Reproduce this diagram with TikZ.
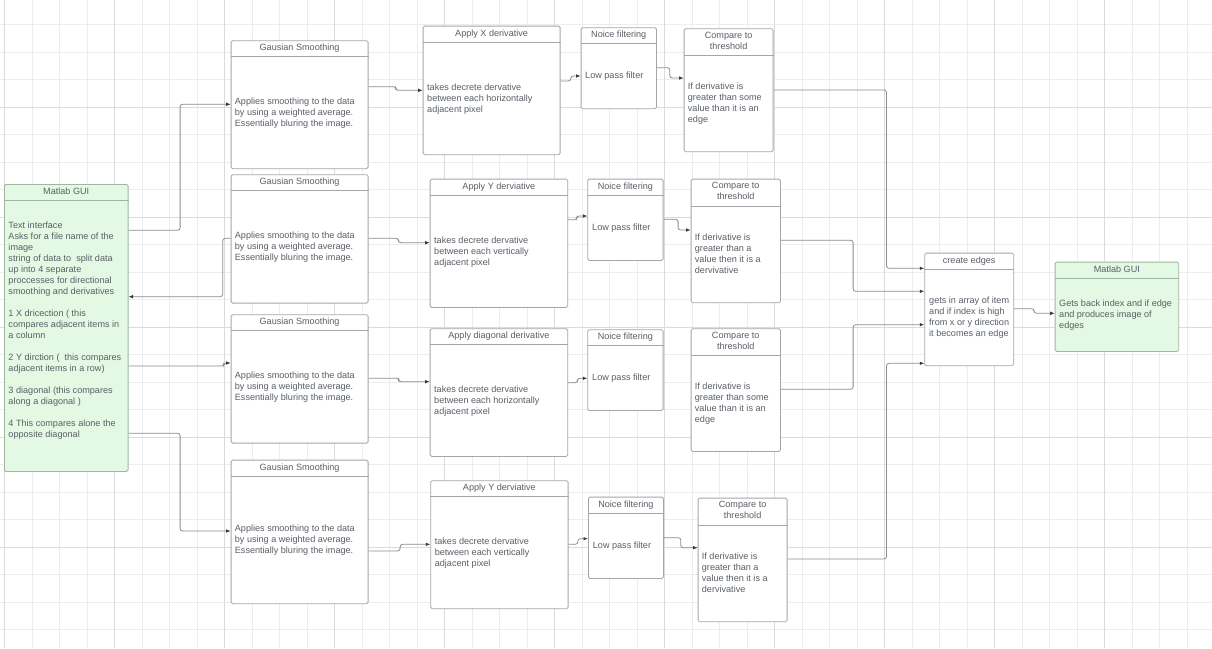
\documentclass[tikz,border=0pt]{standalone}
\usepackage{fontspec}
\setmainfont{Liberation Sans}
\usepackage{tikz}
\usetikzlibrary{positioning,arrows.meta}
\definecolor{boxgray}{HTML}{A6A6A6}
\definecolor{guifill}{HTML}{E3F9E3}
\definecolor{guiline}{HTML}{9DB89D}
\definecolor{txt}{HTML}{595F67}
\definecolor{linkgray}{HTML}{8C8C8C}
\definecolor{tipgray}{HTML}{3A3A3A}
\definecolor{gridminor}{HTML}{EDEDED}
\definecolor{gridmajor}{HTML}{DBDBDB}
\newcommand\boxfont{\fontsize{9.1}{11}\selectfont}
\begin{document}
\begin{tikzpicture}[x=1pt,y=1pt,
  box/.style={shape=rectangle,draw=boxgray,fill=white,line width=0.8pt,rounded corners=1.5pt,anchor=north west,inner sep=0pt},
  boxG/.style={box,draw=guiline,fill=guifill},
  head/.style={anchor=north,inner sep=0pt,align=center,font=\boxfont,text=txt},
  body/.style={anchor=north west,inner sep=0pt,align=left,font=\boxfont,text=txt},
  rule/.style={draw=boxgray,line width=0.8pt},
  ruleG/.style={draw=guiline,line width=0.8pt},
  link/.style={draw=linkgray,line width=0.8pt,rounded corners=2.5pt,-{Latex[length=4.5pt,width=3.6pt,color=tipgray]}}]
\def\hd{3.6pt}
\def\hr{16.2pt}
\def\hrr{27.3pt}

\useasboundingbox (0,0) rectangle (1212,-648);
\fill[white] (0,0) rectangle (1212,-648);
\begin{scope}[shift={(4.5,2.7)}]
\draw[gridminor,line width=0.7pt,step=27.5pt] (-4.5,-651) grid (1208,-2.7);
\draw[gridmajor,line width=0.8pt,step=110pt] (-4.5,-651) grid (1208,-2.7);
\end{scope}

\node[boxG,minimum width=123.7,minimum height=287] (GUI1) at (4,-184) {};
\node[head,below=\hd of GUI1.north] (GUI1t) {Matlab GUI};
\node[body,below right=37.6pt and 4.3pt of GUI1.north west] (GUI1b) {Text interface\\Asks for a file name of the\\image\\string of data to \ split data\\up into 4 separate\\proccesses for directional\\smoothing and derivatives\\[11pt]1 X dricection ( this\\compares adjacent items in\\a column\\[11pt]2 Y dirction ( \ this compares\\adjacent items in a row)\\[11pt]3 diagonal (this compares\\along a diagonal )\\[11pt]4 This compares alone the\\opposite diagonal};

\node[box,minimum width=137,minimum height=128] (G1) at (230.7,-40.3) {};
\node[head,below=\hd of G1.north] (G1t) {Gausian Smoothing};
\node[body,below right=57.3pt and 4pt of G1.north west] (G1b) {Applies smoothing to the data\\by using a weighted average.\\Essentially bluring the image.};
\node[box,minimum width=137,minimum height=128.4] (G2) at (230.7,-174.3) {};
\node[head,below=\hd of G2.north] (G2t) {Gausian Smoothing};
\node[body,below right=57.3pt and 4pt of G2.north west] (G2b) {Applies smoothing to the data\\by using a weighted average.\\Essentially bluring the image.};
\node[box,minimum width=137,minimum height=128.4] (G3) at (230.7,-314.3) {};
\node[head,below=\hd of G3.north] (G3t) {Gausian Smoothing};
\node[body,below right=57.3pt and 4pt of G3.north west] (G3b) {Applies smoothing to the data\\by using a weighted average.\\Essentially bluring the image.};
\node[box,minimum width=137,minimum height=143.6] (G4) at (230.7,-459.7) {};
\node[head,below=\hd of G4.north] (G4t) {Gausian Smoothing};
\node[body,below right=64.6pt and 4pt of G4.north west] (G4b) {Applies smoothing to the data\\by using a weighted average.\\Essentially bluring the image.};

\node[box,minimum width=137,minimum height=128.6] (D1) at (422.7,-25.7) {};
\node[head,below=\hd of D1.north] (D1t) {Apply X derivative};
\node[body,below right=57.9pt and 4.3pt of D1.north west] (D1b) {takes decrete dervative\\between each horizontally\\adjacent pixel};
\node[box,minimum width=137.6,minimum height=128.3] (D2) at (429.7,-178.7) {};
\node[head,below=\hd of D2.north] (D2t) {Apply Y derviative};
\node[body,below right=57.6pt and 4.3pt of D2.north west] (D2b) {takes decrete dervative\\between each vertically\\adjacent pixel};
\node[box,minimum width=137.6,minimum height=127.7] (D3) at (429.7,-328.3) {};
\node[head,below=\hd of D3.north] (D3t) {Apply diagonal derivative};
\node[body,below right=57.3pt and 4.3pt of D3.north west] (D3b) {takes decrete dervative\\between each horizontally\\adjacent pixel};
\node[box,minimum width=137.4,minimum height=128] (D4) at (430.3,-480.3) {};
\node[head,below=\hd of D4.north] (D4t) {Apply Y derviative};
\node[body,below right=57pt and 4.3pt of D4.north west] (D4b) {takes decrete dervative\\between each vertically\\adjacent pixel};

\node[box,minimum width=75.3,minimum height=81] (N1) at (580.7,-27.3) {};
\node[head,below=\hd of N1.north] (N1t) {Noice filtering};
\node[body,below right=44.3pt and 4.3pt of N1.north west] (N1b) {Low pass filter};
\node[box,minimum width=75.4,minimum height=81.3] (N2) at (587.3,-178.7) {};
\node[head,below=\hd of N2.north] (N2t) {Noice filtering};
\node[body,below right=44.6pt and 4.7pt of N2.north west] (N2b) {Low pass filter};
\node[box,minimum width=75.4,minimum height=80.7] (N3) at (587.3,-329.3) {};
\node[head,below=\hd of N3.north] (N3t) {Noice filtering};
\node[body,below right=44.6pt and 4.7pt of N3.north west] (N3b) {Low pass filter};
\node[box,minimum width=75,minimum height=81.3] (N4) at (588,-496.7) {};
\node[head,below=\hd of N4.north] (N4t) {Noice filtering};
\node[body,below right=44.6pt and 4.7pt of N4.north west] (N4b) {Low pass filter};

\node[box,minimum width=89,minimum height=123] (C1) at (683.7,-28.3) {};
\node[head,below=\hd of C1.north] (C1t) {Compare to\\threshold};
\node[body,below right=54.6pt and 4pt of C1.north west] (C1b) {If derivative is\\greater than some\\value than it is an\\edge};
\node[box,minimum width=89.3,minimum height=123.6] (C2) at (690.7,-178.7) {};
\node[head,below=\hd of C2.north] (C2t) {Compare to\\threshold};
\node[body,below right=54.9pt and 4pt of C2.north west] (C2b) {If derivative is\\greater than a\\value then it is a\\dervivative};
\node[box,minimum width=89.3,minimum height=122.7] (C3) at (690.7,-328.3) {};
\node[head,below=\hd of C3.north] (C3t) {Compare to\\threshold};
\node[body,below right=54.3pt and 4pt of C3.north west] (C3b) {If derivative is\\greater than some\\value than it is an\\edge};
\node[box,minimum width=89,minimum height=123.6] (C4) at (697.7,-497.7) {};
\node[head,below=\hd of C4.north] (C4t) {Compare to\\threshold};
\node[body,below right=54.9pt and 4pt of C4.north west] (C4b) {If derivative is\\greater than a\\value then it is a\\dervivative};

\node[box,minimum width=89,minimum height=112.6] (E) at (924.3,-252.7) {};
\node[head,below=\hd of E.north] (Et) {create edges};
\node[body,below right=44.2pt and 4.7pt of E.north west] (Eb) {gets in array of item\\and if index is high\\from x or y direction\\it becomes an edge};

\node[boxG,minimum width=123.6,minimum height=89.3] (GUI2) at (1054.7,-261.7) {};
\node[head,below=\hd of GUI2.north] (GUI2t) {Matlab GUI};
\node[body,below right=37.9pt and 4.3pt of GUI2.north west] (GUI2b) {Gets back index and if edge\\and produces image of\\edges};

\foreach \b in {G1,G2,G3,G4,D1,D2,D3,D4,N1,N2,N3,N4,E}
  \draw[rule] ([yshift=-\hr]\b.north west) -- ([yshift=-\hr]\b.north east);
\foreach \b in {C1,C2,C3,C4}
  \draw[rule] ([yshift=-\hrr]\b.north west) -- ([yshift=-\hrr]\b.north east);
\foreach \b in {GUI1,GUI2}
  \draw[ruleG] ([yshift=-\hr]\b.north west) -- ([yshift=-\hr]\b.north east);

\draw[link] ([yshift=-46.3pt]GUI1.north east) -- ++(51.6,0) |- ([yshift=-64pt]G1.north west);
\draw[link] ([yshift=-64pt]G2.north west) -- ++(-8,0) |- ([yshift=-112.7pt]GUI1.north east);
\draw[link] ([yshift=-182pt]GUI1.north east) -- ++(95.3,0) |- ([yshift=-48.7pt]G3.north west);
\draw[link] ([yshift=-249.3pt]GUI1.north east) -- ++(51.6,0) |- ([yshift=-71.3pt]G4.north west);

\draw[link] ([yshift=-46.4pt]G1.north east) -- ++(27.3,0) |- ([yshift=-64.6pt]D1.north west);
\draw[link] ([yshift=-64pt]G2.north east) -- ++(30,0) |- ([yshift=-64pt]D2.north west);
\draw[link] ([yshift=-64pt]G3.north east) -- ++(30.3,0) |- ([yshift=-53.4pt]D3.north west);
\draw[link] ([yshift=-91.3pt]G4.north east) -- ++(31.6,0) |- ([yshift=-64pt]D4.north west);

\draw[link] ([yshift=-55.3pt]D1.north east) -- ++(10.3,0) |- ([yshift=-48.7pt]N1.north west);
\draw[link] ([yshift=-41pt]D2.north east) -- ++(8.7,0) |- ([yshift=-37.3pt]N2.north west);
\draw[link] ([yshift=-54.4pt]D3.north east) -- ++(9.4,0) |- ([yshift=-49pt]N3.north west);
\draw[link] ([yshift=-64pt]D4.north east) -- ++(9.3,0) |- ([yshift=-42pt]N4.north west);

\draw[link] ([yshift=-40.4pt]N1.north east) -- ++(13,0) |- ([yshift=-49.7pt]C1.north west);
\draw[link] ([yshift=-40.6pt]N2.north east) -- ++(14.6,0) |- ([yshift=-51.3pt]C2.north west);
\draw[link] ([yshift=-41pt]N4.north east) -- ++(17,0) |- ([yshift=-50pt]C4.north west);

\draw[link] ([yshift=-61.7pt]C1.north east) -- ++(113,0) |- ([yshift=-15.6pt]E.north west);
\draw[link] ([yshift=-61.6pt]C2.north east) -- ++(72.3,0) |- ([yshift=-38.6pt]E.north west);
\draw[link] ([yshift=-61pt]C3.north east) -- ++(72.3,0) |- ([yshift=-72pt]E.north west);
\draw[link] ([yshift=-61.3pt]C4.north east) -- ++(99,0) |- ([yshift=-110.6pt]E.north west);

\draw[link] ([yshift=-56pt]E.north east) -- ++(20,0) |- ([yshift=-51.6pt]GUI2.north west);
\end{tikzpicture}
\end{document}
